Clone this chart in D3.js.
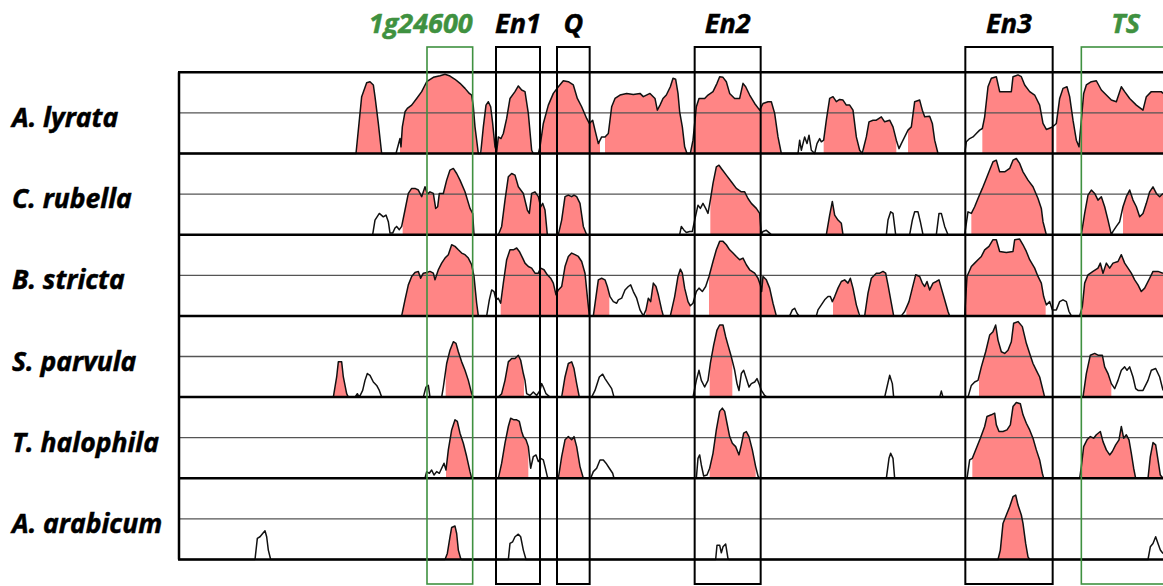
<!DOCTYPE html>
<html>
<head>
<meta charset="utf-8">
<script src="https://cdn.jsdelivr.net/npm/d3@7"></script>
<style>
  body { margin: 0; background: #fff; }
  text { font-family: "Open Sans", Lato, sans-serif; font-weight: bold; font-style: italic; }
</style>
</head>
<body>
<div id="container"></div>
<script>
// species shown, top to bottom
let species = ["A. lyrata", "C. rubella", "B. stricta", "S. parvula", "T. halophila", "A. arabicum"];

// conservation profiles: [position (bp), % identity]
let alyrata = [[0,50],[531,50],[548,85],[563,93.6],[573,94.2],[583,92.2],[588,85],[598,68.5],[608,50],
  [651,50],[663,59.2],[666,54.1],[670,66.4],[678,75.7],[685,77.8],[698,79.8],[713,83.9],[728,88.1],[743,94.2],[763,96.9],[783,97.9],[798,98.8],[813,97.7],[828,95.7],[843,93.2],[858,90.1],[871,87],[878,86],[883,78.8],[888,66.4],[898,50],
  [905,50],[913,66.4],[921,79.8],[928,81.9],[935,78.8],[941,68.5],[948,54.1],[953,51],[958,60.2],[966,59.2],[973,62.3],[983,71.6],[993,83.9],[1008,88.1],[1018,91.6],[1028,89.1],[1038,88.1],[1048,74.7],[1058,52],[1063,50],
  [1078,50],[1083,54.1],[1093,68.5],[1108,79.8],[1123,87],[1138,91.1],[1153,94.8],[1168,94.2],[1183,92.2],[1195,83.9],[1208,78.8],[1223,71.6],[1231,68.5],[1241,70.5],[1248,64.4],[1258,56.1],[1268,60.2],[1278,60.2],[1288,62.3],[1298,78.8],[1308,83.9],[1323,86],[1343,87],[1363,86.4],[1383,87],[1393,85],[1413,87],[1428,83.9],[1435,76.7],[1443,79.8],
  [1452,83.9],[1462,86],[1474,91.1],[1482,96.3],[1490,95.7],[1497,87],[1502,75.7],[1510,66.4],[1517,54.1],[1524,50],
  [1534,50],[1542,58.2],[1552,78.8],[1560,83.9],[1577,83.9],[1587,86],[1602,88.1],[1614,93.2],[1622,97.3],[1632,96.9],[1642,94.2],[1652,87],[1667,83.9],[1682,83.9],[1692,93.2],[1700,91.1],[1712,86],[1727,80.8],[1742,76.7],[1752,80.8],[1767,81.9],[1777,81.9],[1787,74.7],[1797,60.2],[1807,50],
  [1857,50],[1862,58.2],[1867,52],[1877,60.2],[1884,56.1],[1890,61.3],[1897,52],[1907,50],[1914,56.1],[1922,59.2],[1927,57.2],[1934,58.2],[1942,70.5],[1952,83.9],[1962,85],[1972,81.9],[1982,83.3],[1992,82.9],[2002,79.8],[2012,79.8],[2022,76.7],[2032,60.2],[2042,52],[2050,50],
  [2052,52],[2062,60.2],[2070,69.5],[2082,70.5],[2092,70.5],[2107,72.6],[2117,69.5],[2132,70.5],[2142,66.4],[2152,58.2],[2160,53],[2167,56.1],[2177,60.2],[2187,64.4],[2197,66.4],[2207,81.9],[2222,82.9],[2230,76.7],[2237,72.6],[2252,73],[2260,68.5],[2267,58.2],[2277,50],
  [2357,50],[2362,57.2],[2372,59.2],[2382,60.2],[2392,62.3],[2402,64.4],[2410,65.4],[2417,72.6],[2427,91.1],[2437,96.3],[2452,97.3],[2462,88.1],[2477,88.1],[2497,88.1],[2502,97.3],[2517,98.4],[2527,97.3],[2537,92.2],[2552,88.1],[2567,86],[2582,79.8],[2592,68.5],[2602,64.8],[2617,66],[2627,67.5],[2632,68.5],[2642,83.9],[2652,90.1],[2664,91.1],[2672,85],[2682,70.5],[2692,58.2],[2700,54.1],[2707,70.5],[2714,87],[2722,92.2],[2737,94.2],[2752,94.8],[2767,89.1],[2782,86],[2797,82.9],[2812,81.9],[2827,91.1],[2837,88.1],[2852,83.9],[2872,79.8],[2892,76.7],[2902,85],[2917,88.1],[2932,88.1],[2947,88.1],[2952,87]];
let alyrataCns = [[533,608],[663,898],[908,1063],[1083,1263],[1278,1524],[1537,1807],[1934,2050],[2055,2152],[2187,2277],[2410,2624],[2632,2952]];

let crubella = [[0,50],[581,50],[588,59],[601,63.1],[613,61],[621,62.1],[628,58],[633,51],[641,51],[648,54.1],[653,55.1],[661,53.1],[668,55.1],[678,65.2],[688,75.4],[698,78.5],[708,78.5],[718,77.5],[728,73.4],[738,79.5],[745,75],[753,76.4],[763,75.4],[770,66.2],[776,67.2],[781,75.4],[793,75.4],[803,83.6],[813,89.8],[823,90.8],[833,87.7],[843,83.6],[858,76.4],[873,66.2],[881,63.1],[885,50],
  [958,50],[968,55.1],[978,71.3],[988,85.7],[998,87.7],[1008,86.7],[1018,79.5],[1033,75.4],[1045,65.2],[1051,63.1],[1058,75.4],[1068,76.4],[1078,73.4],[1085,67.2],[1091,69.3],[1098,65.2],[1105,50],
  [1138,50],[1148,59],[1158,73.4],[1168,74.4],[1178,73.4],[1185,74.4],[1193,73.4],[1203,69.3],[1213,55.1],[1223,50],
  [1502,50],[1507,55.1],[1514,53.1],[1522,51.4],[1532,52],[1540,52],[1547,59],[1557,68.2],[1564,66.2],[1572,69.3],[1580,66.2],[1587,63.1],[1594,71.3],[1602,81.6],[1612,91.8],[1620,92.8],[1627,90.8],[1642,86.7],[1657,82.6],[1672,78.5],[1687,76.4],[1697,76.4],[1707,72.3],[1717,69.3],[1732,66.2],[1742,63.1],[1747,50],[1752,52],[1762,52.7],[1772,51],[1777,50],
  [1942,50],[1952,62.1],[1960,70.5],[1967,62.1],[1977,59],[1987,57],[1992,50],
  [2122,50],[2127,59],[2135,64.1],[2142,63.1],[2150,50],
  [2192,50],[2200,59],[2207,64.1],[2217,64.1],[2224,58],[2232,50],
  [2272,50],[2280,63.1],[2287,63.1],[2297,55.1],[2307,50],
  [2357,50],[2367,64.1],[2377,63.1],[2387,67.2],[2397,72.3],[2410,78.5],[2422,84.6],[2432,89.8],[2442,94.9],[2452,95.9],[2462,88.7],[2477,88.7],[2492,90.8],[2502,95.9],[2512,96.9],[2522,93.9],[2532,88.7],[2547,83.6],[2562,79.5],[2577,72.3],[2587,66.2],[2592,58],[2602,50],
  [2707,50],[2717,63.1],[2727,74.4],[2737,77.5],[2747,75.4],[2757,71.3],[2767,73.4],[2777,67.2],[2787,59],[2797,50],[2802,52],[2812,55.1],[2822,58],[2832,67.2],[2842,73.4],[2852,77.5],[2862,71.3],[2872,67.2],[2882,61],[2892,63.1],[2902,69.3],[2912,76.4],[2922,79.5],[2932,75.4],[2942,73.4],[2952,75.4]];
let crubellaCns = [[671,885],[963,1105],[1141,1223],[1594,1744],[1942,1992],[2377,2600],[2710,2797],[2832,2952]];

let bstricta = [[0,50],[668,50],[678,59.9],[688,69.1],[698,74.3],[708,76.7],[718,77.4],[725,73.2],[733,76.3],[743,76.7],[753,77.4],[763,76.3],[768,72.2],[778,78.4],[788,82.5],[798,85.6],[808,87.7],[818,93.8],[828,92.8],[838,90.7],[848,88.7],[858,87.7],[868,85.6],[878,81.5],[885,74.3],[893,57.8],[898,50],
  [923,50],[931,59.9],[938,66],[945,65],[951,59.9],[958,60.9],[965,57.8],[973,70.2],[983,84.6],[993,90.7],[1003,90.7],[1013,91.8],[1021,89.7],[1031,85.6],[1038,82.5],[1048,80.4],[1058,79.4],[1068,76.3],[1078,76.3],[1085,79.4],[1095,78.4],[1105,75.3],[1115,73.2],[1123,70.2],[1131,63],[1138,66],[1148,68.1],[1158,80.4],[1168,86.6],[1178,88.7],[1188,87.7],[1198,86.6],[1208,83.5],[1218,76.3],[1225,61.9],[1231,50],
  [1243,50],[1251,61.9],[1258,72.2],[1268,73.2],[1278,72.2],[1285,68.1],[1293,61.9],[1303,58.8],[1313,57.8],[1318,59.9],[1328,60.9],[1338,66],[1348,68.1],[1355,69.1],[1363,65],[1373,60.9],[1383,53.7],[1393,50],[1401,53.7],[1408,60.9],[1415,58.8],[1423,70.2],[1431,68.1],[1438,63],[1448,53.7],[1453,50],
  [1474,50],[1487,61.9],[1497,74.3],[1504,78.8],[1510,76.3],[1517,67.1],[1527,58.8],[1534,56.2],[1542,57.8],[1552,65],[1560,67.1],[1570,65],[1580,68.1],[1590,74.3],[1602,83.5],[1612,90.7],[1622,95.9],[1632,95.9],[1642,93.8],[1652,90.7],[1662,88.7],[1672,86.6],[1682,84.6],[1692,85.6],[1702,81.5],[1712,78.4],[1727,76.3],[1737,73.2],[1744,69.1],[1748,65],[1752,74.3],[1762,72.2],[1772,67.1],[1782,57.8],[1792,50],
  [1832,50],[1840,53.7],[1847,54.7],[1854,51.6],[1860,50],
  [1912,50],[1917,53.7],[1927,56.8],[1937,59.9],[1947,61.9],[1954,61.9],[1960,58.8],[1967,61.9],[1977,67.1],[1987,71.2],[1997,72.2],[2007,70.2],[2014,73.2],[2022,67.1],[2032,56.8],[2042,50],
  [2057,50],[2067,64],[2077,73.2],[2092,76.3],[2102,76.3],[2112,77.4],[2120,76.3],[2127,69.1],[2137,57.8],[2144,50],
  [2167,50],[2177,52.7],[2190,58.8],[2200,67.1],[2210,75.3],[2222,74.3],[2230,70.2],[2237,68.1],[2244,71.2],[2252,66],[2262,70.2],[2272,71.2],[2280,72.2],[2287,67.1],[2297,59.9],[2307,52.7],[2312,50],
  [2357,50],[2364,74.3],[2377,80.4],[2387,82.5],[2397,84.6],[2407,86.6],[2417,90.7],[2430,92.8],[2442,96.9],[2452,96.9],[2462,89.7],[2482,89.1],[2502,89.7],[2507,96.9],[2522,97.3],[2532,93.8],[2542,89.7],[2552,84.6],[2567,79.4],[2577,74.3],[2587,70.2],[2594,61.9],[2602,56.8],[2612,58.8],[2620,53.7],[2632,53.7],[2642,58.8],[2652,59.9],[2662,58.8],[2670,52.7],[2677,50],
  [2702,50],[2710,55.7],[2717,70.2],[2727,75.3],[2742,77.4],[2757,79.4],[2764,82.5],[2772,76.3],[2782,82.5],[2792,79.4],[2802,82.5],[2817,83.5],[2827,87.7],[2837,82.5],[2847,79.4],[2857,76.3],[2867,72.2],[2877,69.1],[2887,65],[2897,67.1],[2912,73.2],[2922,77.4],[2937,77.4],[2952,76.3]];
let bstrictaCns = [[670,898],[965,1231],[1245,1291],[1401,1453],[1474,1534],[1590,1792],[1962,2037],[2057,2144],[2182,2310],[2360,2600],[2707,2952]];

let sparvula = [[0,50],[463,50],[473,62.4],[478,71.7],[488,71.7],[493,62.4],[503,52.1],[508,50],
  [528,50],[535,52.1],[541,50],[551,54.1],[558,60.3],[565,64.5],[573,63.4],[583,59.3],[593,57.2],[601,54.1],[608,50],
  [733,50],[741,56.2],[748,57.2],[753,50],[788,50],[793,56.2],[803,70.7],[813,78.9],[823,84.1],[831,83.1],[838,77.9],[848,71.7],[858,66.5],[868,60.3],[878,52.1],[883,50],
  [958,50],[968,52.1],[978,60.3],[988,71.7],[998,73.8],[1008,73.8],[1018,75.8],[1025,72.7],[1033,64.5],[1038,60.3],[1043,52.1],[1053,51],[1063,53.1],[1073,51],[1083,54.1],[1088,58.3],[1093,56.2],[1101,52.1],[1113,50],
  [1148,50],[1158,62.4],[1168,70.7],[1178,71.7],[1185,67.6],[1193,58.3],[1201,50],
  [1238,50],[1248,54.1],[1261,62.4],[1271,64.1],[1278,61.4],[1288,58.3],[1298,55.2],[1305,50],
  [1542,50],[1552,60.3],[1560,66.5],[1567,60.3],[1577,56.2],[1587,60.3],[1594,70.7],[1604,82],[1614,91.3],[1622,94.4],[1632,94.4],[1640,87.2],[1647,82],[1657,74.8],[1667,66.5],[1674,58.3],[1680,54.1],[1687,64.5],[1694,66.5],[1702,61.4],[1710,56.2],[1717,58.3],[1727,59.3],[1734,61.4],[1740,58.3],[1747,54.1],[1757,51],[1764,50],
  [2117,50],[2124,56.2],[2132,63.4],[2140,58.3],[2144,50],
  [2282,50],[2287,53.7],[2292,50],
  [2367,50],[2377,57.2],[2387,59.3],[2397,60.3],[2407,68.6],[2420,77.9],[2432,88.2],[2442,90.3],[2450,94.4],[2457,85.1],[2467,77.9],[2477,76.9],[2487,78.9],[2497,84.1],[2504,95.5],[2517,96.5],[2530,93.4],[2542,83.1],[2552,76.9],[2562,70.7],[2572,66.5],[2582,62.4],[2592,54.1],[2597,50],
  [2712,50],[2722,64.5],[2734,75.8],[2747,76.9],[2757,75.8],[2770,75.8],[2777,68.6],[2787,64.5],[2797,58.3],[2807,55.2],[2817,60.3],[2827,66.5],[2837,68.6],[2844,66.5],[2852,68.6],[2862,62.4],[2870,55.2],[2877,54.1],[2892,54.1],[2907,60.3],[2917,66.5],[2930,67.6],[2942,62.4],[2952,54.1]];
let sparvulaCns = [[463,508],[800,878],[963,1035],[1151,1201],[1592,1660],[2400,2595],[2714,2797]];

let thalophila = [[0,50],[738,50],[743,54.1],[751,53.1],[758,55.1],[765,52],[773,54.1],[781,53.1],[788,56.2],[795,59.3],[801,55.1],[808,67.5],[818,79.8],[828,86],[835,85],[843,77.8],[853,71.6],[863,63.4],[873,54.1],[878,50],
  [958,50],[968,59.3],[978,71.6],[988,81.9],[995,87],[1005,86],[1013,86],[1021,85],[1028,78.8],[1033,75.7],[1041,73.7],[1048,69.5],[1055,56.2],[1063,63.4],[1071,64.4],[1078,60.3],[1085,62.3],[1093,61.3],[1098,57.2],[1105,51],[1108,50],
  [1138,50],[1148,63.4],[1158,73.7],[1168,75.7],[1178,73.7],[1185,75.7],[1193,69.5],[1203,57.2],[1213,50],
  [1235,50],[1243,54.1],[1253,56.2],[1263,61.3],[1273,61.3],[1281,59.3],[1291,56.2],[1301,53.1],[1305,50],
  [1552,50],[1557,62.3],[1562,64.4],[1567,58.2],[1574,51.4],[1584,52],[1592,56.2],[1602,65.4],[1612,79.8],[1622,91.2],[1630,93.2],[1637,91.2],[1644,83.9],[1652,75.7],[1660,71.6],[1670,69.5],[1680,64.4],[1687,70.6],[1694,77.8],[1702,78.8],[1710,75.7],[1720,67.5],[1730,57.2],[1737,51.4],[1742,50],
  [2122,50],[2130,62.3],[2135,65.4],[2142,62.3],[2147,50],
  [2364,50],[2372,61.3],[2380,62.3],[2392,68.5],[2404,74.7],[2417,81.9],[2424,88.1],[2437,89.1],[2447,90.1],[2452,82.9],[2460,78.8],[2472,78.8],[2484,79.8],[2494,82.9],[2502,94.2],[2512,96.7],[2524,95.9],[2532,89.1],[2542,83.9],[2552,79.8],[2562,74.7],[2572,67.5],[2582,61.3],[2590,53.1],[2594,50],
  [2702,50],[2707,57.2],[2714,69.5],[2724,73.7],[2734,75.7],[2744,74.7],[2752,76.8],[2764,78.8],[2772,72.6],[2782,67.5],[2792,64.4],[2800,66.5],[2810,70.6],[2820,73.7],[2827,81.9],[2834,74.7],[2842,76.8],[2850,73.7],[2857,65.4],[2864,56.2],[2870,50],
  [2907,50],[2914,63.4],[2922,72],[2930,70.6],[2937,61.3],[2944,52],[2952,50]];
let thalophilaCns = [[801,878],[961,1048],[1141,1213],[1592,1730],[2380,2590],[2707,2870],[2907,2952]];

let aarabicum = [[0,50],[228,50],[235,63],[243,64],[251,66],[258,67.7],[263,64],[268,55.8],[275,50],
  [798,50],[805,53.7],[813,64],[818,69.7],[828,70.6],[833,66],[838,55.8],[845,50.6],[848,50],
  [988,50],[993,59.9],[1001,60.9],[1008,64],[1018,65.6],[1025,64],[1033,55.8],[1041,50],
  [1610,50],[1614,58.8],[1622,58.8],[1627,54.1],[1632,57.8],[1640,59.5],[1647,50.6],[1650,50],
  [2457,50],[2464,55.8],[2472,72.2],[2482,77.4],[2492,82.5],[2502,88.7],[2510,89.7],[2517,83.5],[2527,77.4],[2532,72.2],[2540,59.9],[2547,51.6],[2552,50],
  [2907,50],[2914,57.8],[2922,59.9],[2930,64],[2937,59.9],[2944,55.8],[2952,53.7]];
let aarabicumCns = [[801,845],[2460,2550]];

let profiles = [alyrata, crubella, bstricta, sparvula, thalophila, aarabicum];
let conserved = [alyrataCns, crubellaCns, bstrictaCns, sparvulaCns, thalophilaCns, aarabicumCns];

// annotated regions (boxes)
let regionNames = ["1g24600", "En1", "Q", "En2", "En3", "TS"];
let regionStart = [744, 951, 1134, 1547, 2359, 2707];
let regionEnd = [881, 1083, 1232, 1745, 2621, 2990];
let regionIsGene = [true, false, false, false, false, true];

let w = 1163;
let h = 586;
let green = "#3f9140";

let viz = d3.select("#container").append("svg")
  .attr("width", w)
  .attr("height", h)
  .style("background-color", "white");

let xScale = d3.scaleLinear().domain([0, 2952]).range([179, 1163]);
let band = d3.scaleBand().domain(species).range([72.3, 559.5]);

species.forEach(function(name, i){
  let top = band(name);
  let bottom = top + band.bandwidth();
  let yScale = d3.scaleLinear().domain([50, 100]).range([bottom, top]);
  let g = viz.append("g").attr("class", "track");

  let clipId = "clip" + i;
  viz.append("clipPath").attr("id", clipId)
    .selectAll("rect").data(conserved[i]).enter().append("rect")
      .attr("x", d => xScale(d[0]))
      .attr("width", d => xScale(d[1]) - xScale(d[0]))
      .attr("y", top)
      .attr("height", bottom - top);

  let area = d3.area()
    .x(d => xScale(d[0]))
    .y0(bottom)
    .y1(d => yScale(d[1]));
  let line = d3.line()
    .x(d => xScale(d[0]))
    .y(d => yScale(d[1]));

  g.append("path")
    .attr("d", area(profiles[i]))
    .attr("fill", "#ff8585")
    .attr("clip-path", "url(#" + clipId + ")");

  // 75% guide line
  g.append("line")
    .attr("x1", xScale(0)).attr("x2", w)
    .attr("y1", yScale(75)).attr("y2", yScale(75))
    .attr("stroke", "#555").attr("stroke-width", 1.3);

  g.append("path")
    .attr("d", line(profiles[i]))
    .attr("fill", "none")
    .attr("stroke", "#111")
    .attr("stroke-width", 1.5)
    .attr("stroke-linejoin", "round");

  // species label
  viz.append("text")
    .attr("x", 12)
    .attr("y", yScale(75) + 14)
    .attr("font-size", 26.5)
    .attr("fill", "#000")
    .attr("stroke", "#000")
    .attr("stroke-width", 0.5)
    .text(name);
});

// track borders
let edges = species.map(s => band(s)).concat([band.range()[1]]);
viz.selectAll(".edge").data(edges).enter().append("line")
  .attr("class", "edge")
  .attr("x1", xScale(0) - 1).attr("x2", w)
  .attr("y1", d => d).attr("y2", d => d)
  .attr("stroke", "#000").attr("stroke-width", 2.5);
viz.append("line")
  .attr("x1", xScale(0)).attr("x2", xScale(0))
  .attr("y1", edges[0]).attr("y2", edges[edges.length - 1])
  .attr("stroke", "#000").attr("stroke-width", 2.5);

// region boxes and their names
let boxTop = 47, boxBottom = 584;
regionNames.forEach(function(name, i){
  let x0 = xScale(regionStart[i]);
  let x1 = xScale(regionEnd[i]);
  let col = regionIsGene[i] ? green : "#000";
  viz.append("rect")
    .attr("x", x0).attr("y", boxTop)
    .attr("width", x1 - x0).attr("height", boxBottom - boxTop)
    .attr("fill", "none")
    .attr("stroke", col)
    .attr("stroke-width", regionIsGene[i] ? 1.6 : 2);
  let wide = name.length > 4;
  viz.append("text")
    .attr("x", wide ? x1 : Math.min((x0 + x1) / 2, xScale(2840)))
    .attr("y", 33)
    .attr("text-anchor", wide ? "end" : "middle")
    .attr("font-size", 27)
    .attr("fill", col)
    .attr("stroke", col)
    .attr("stroke-width", 0.5)
    .text(name);
});
</script>
</body>
</html>
